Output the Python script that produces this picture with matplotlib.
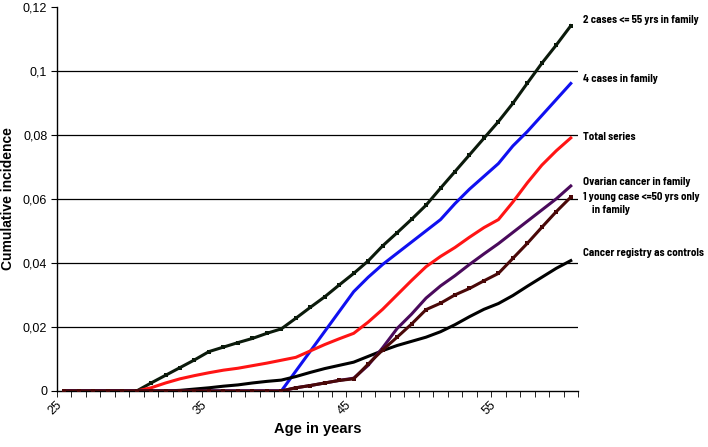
"""Cumulative incidence by age, per family-history group."""
import matplotlib

matplotlib.use("Agg")
import matplotlib.pyplot as plt
import matplotlib.transforms as mtransforms
import numpy as np

ages = list(range(25, 61))

two_cases_55 = [0, 0, 0, 0, 0, 0, 0.0025, 0.0049, 0.0073, 0.0097, 0.0123, 0.0137,
                0.0151, 0.0164, 0.018, 0.0194, 0.0227, 0.0261, 0.0294, 0.0331, 0.0367,
                0.0406, 0.0453, 0.0494, 0.0536, 0.058, 0.0633, 0.0685, 0.0737, 0.0789,
                0.0841, 0.0898, 0.0961, 0.1023, 0.108, 0.114]
four_cases = [0] * 16 + [0.0062, 0.0124, 0.0186, 0.0248, 0.031, 0.0355, 0.0395, 0.043,
                         0.0465, 0.050, 0.0535, 0.0585, 0.063, 0.067, 0.071, 0.0765,
                         0.081, 0.086, 0.091, 0.096]
total_series = [0, 0, 0, 0, 0, 0, 0.001, 0.0025, 0.0038, 0.0048, 0.0057, 0.0065,
                0.0071, 0.0079, 0.0087, 0.0096, 0.0105, 0.0125, 0.0145, 0.0163, 0.018,
                0.0215, 0.0255, 0.030, 0.0345, 0.0388, 0.042, 0.0448, 0.048, 0.051,
                0.0535, 0.059, 0.065, 0.0705, 0.075, 0.079]
ovarian = [0] * 16 + [0.001, 0.0017, 0.0025, 0.0033, 0.004, 0.008, 0.0135, 0.0195,
                      0.024, 0.029, 0.0328, 0.036, 0.0395, 0.0428, 0.046, 0.0495,
                      0.053, 0.0565, 0.060, 0.064]
young_case_50 = [0] * 16 + [0.001, 0.0017, 0.0025, 0.0033, 0.0038, 0.0084, 0.0128,
                            0.0168, 0.0209, 0.0254, 0.0274, 0.030, 0.032, 0.0344,
                            0.0367, 0.0414, 0.0461, 0.0511, 0.056, 0.0605]
registry = [0, 0, 0, 0, 0, 0, 0, 0, 0.0002, 0.0006, 0.001, 0.0015, 0.0019, 0.0025,
            0.003, 0.0034, 0.0045, 0.0058, 0.007, 0.008, 0.009, 0.0108, 0.0126,
            0.0142, 0.0155, 0.0168, 0.0185, 0.0207, 0.0232, 0.0255, 0.0273, 0.0298,
            0.0327, 0.0355, 0.0383, 0.0407]

y_ticks = [0, 0.02, 0.04, 0.06, 0.08, 0.1, 0.12]
y_ticklabels = ["0", "0,02", "0,04", "0,06", "0,08", "0,1", "0,12"]
x_labelled = [25, 35, 45, 55]

plt.rcParams["font.family"] = ["Liberation Sans", "DejaVu Sans"]
narrow = ["Barlow Semi Condensed", "Asap Condensed", "DejaVu Sans"]

fig = plt.figure(figsize=(7.08, 4.47), dpi=100)
ax = fig.add_axes([0.0805, 0.1253, 0.7359, 0.86])

# (label, values, colour, marker, label offset)
series = [
    ("2 cases <= 55 yrs in family", two_cases_55, "#0b1a0b", "s", 0.0018),
    ("4 cases in family", four_cases, "#1010f0", None, 0.0014),
    ("Total series", total_series, "#ff1414", None, 0.0004),
    ("Cancer registry as controls", registry, "#000000", None, 0.0024),
    ("Ovarian cancer in family", ovarian, "#4a0a5c", None, 0.0013),
    ("1 young case <=50 yrs only\n    in family", young_case_50, "#4a0808", "s", 0.0016),
]

for label, vals, color, marker, _ in series:
    ax.plot(ages, vals, color=color, lw=2.2, marker=marker, markersize=3.2,
            markeredgewidth=0, zorder=3)

ax.set_xlim(24.5, 60.5)
ax.set_ylim(0, 0.12)
ax.set_yticks(y_ticks)
ax.set_yticklabels(y_ticklabels, fontsize=9)
ax.set_xticks(x_labelled)
ax.set_xticklabels([str(a) for a in x_labelled], rotation=45, ha="right", fontsize=9)
ax.set_xticks(np.arange(24.5, 61, 1), minor=True)
ax.tick_params(axis="x", which="major", length=0, pad=6)
ax.tick_params(axis="x", which="minor", length=4, direction="out", color="black")
ax.tick_params(axis="y", length=4, direction="out", color="black", pad=3)

for v in y_ticks[1:-1]:
    ax.axhline(v, color="black", lw=0.9, zorder=1)

for s in ["top", "right"]:
    ax.spines[s].set_visible(False)
for s in ["left", "bottom"]:
    ax.spines[s].set_color("black")
    ax.spines[s].set_linewidth(1.0)

ax.set_ylabel("Cumulative incidence", fontsize=10, fontweight="bold", labelpad=6)
ax.set_xlabel("Age in years", fontsize=10.5, fontweight="bold", labelpad=3)

trans = mtransforms.blended_transform_factory(ax.transAxes, ax.transData)
for label, vals, color, marker, dy in series:
    ax.text(1.01, vals[-1] + dy, label, transform=trans, family=narrow,
            fontweight="bold", fontsize=7.9,
            va="center" if "\n" not in label else "top", ha="left", linespacing=1.35)

fig.savefig("out.png", dpi=100)
